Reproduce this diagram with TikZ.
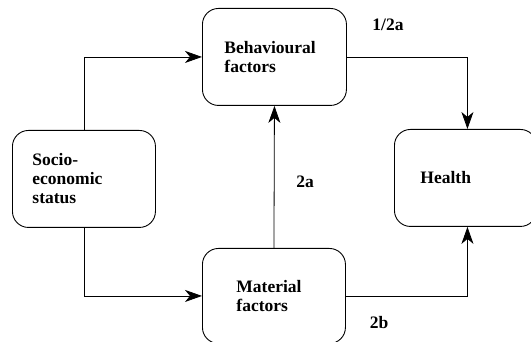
\documentclass[tikz,border=0pt]{standalone}
\usepackage{fontspec}
\setmainfont{Liberation Serif}
\usetikzlibrary{arrows.meta}
\begin{document}
\begin{tikzpicture}[x=1pt,y=-1pt,
  box/.style={draw,line width=0.9pt,rounded corners=16pt,anchor=north west,
    align=left,font=\fontsize{17.5}{19}\selectfont\bfseries,inner ysep=0pt},
  arr/.style={line width=0.8pt,-{Stealth[length=17pt,width=12pt,inset=5pt]}},
  lab/.style={font=\fontsize{17.5}{19}\selectfont\bfseries,inner sep=0pt}]
\clip (0,0) rectangle (531,342);
\fill[white] (0,0) rectangle (531,342);
\node[box,minimum width=144pt,minimum height=97pt,inner xsep=22pt,text width=100pt] (behav) at (202,8) {Behavioural\\factors};
\node[box,minimum width=143pt,minimum height=97pt,inner xsep=20pt,text width=103pt] (socio) at (12,130) {Socio-\\economic\\status};
\node[box,minimum width=142pt,minimum height=97pt,inner xsep=26pt,text width=90pt] (health) at (394,129) {Health};
\node[box,minimum width=143pt,minimum height=95pt,inner xsep=34pt,text width=75pt] (mat) at (202,248) {Material\\factors};
\draw[arr] (socio.north) |- (behav.west);
\draw[arr] (socio.south) |- (mat.west);
\draw[arr] (mat.north) -- (behav.south);
\draw[arr] (behav.east) -| ([xshift=2pt]health.north);
\draw[arr] (mat.east) -| ([xshift=2pt]health.south);
\node[lab] (l1) at (388,25) {1/2a};
\node[lab] (l2) at (305,182) {2a};
\node[lab] (l3) at (379,323) {2b};
\end{tikzpicture}
\end{document}
